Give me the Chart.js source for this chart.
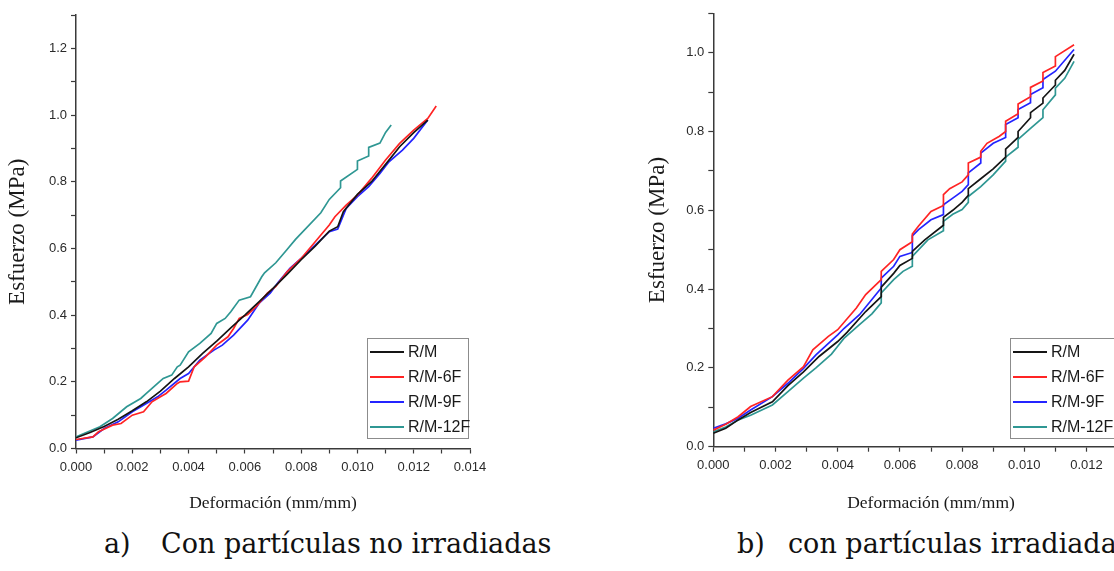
<!DOCTYPE html>
<html lang="es">
<head>
<meta charset="utf-8">
<script src="https://cdn.jsdelivr.net/npm/chart.js@4.4.1/dist/chart.umd.min.js"></script>
<style>
  html, body { margin: 0; padding: 0; background: #fff; }
  body { width: 1114px; height: 571px; position: relative; overflow: hidden; }
  canvas { position: absolute; top: 0; }
  #chartA { left: 0; }
  #chartB { left: 640px; }
  .cap { position: absolute; top: 528px; font-family: "DejaVu Serif", serif; font-size: 27px; color: #111; white-space: nowrap; }
</style>
</head>
<body>
<canvas id="chartA" width="560" height="520"></canvas>
<canvas id="chartB" width="540" height="520"></canvas>
<div class="cap" style="left:104px">a)</div>
<div class="cap" style="left:161px">Con partículas no irradiadas</div>
<div class="cap" style="left:737px">b)</div>
<div class="cap" style="left:788px">con partículas irradiadas</div>
<script>
const seriesNames = ['R/M', 'R/M-6F', 'R/M-9F', 'R/M-12F'];
const seriesColors = ['#151515', '#ff2424', '#2424ff', '#2f9793'];

// a) con partículas no irradiadas  [deformación, esfuerzo]
const noIrrRM = [[0,0.032],[0.0005,0.048],[0.001,0.066],[0.0015,0.088],[0.002,0.113],[0.0025,0.14],[0.003,0.172],[0.0035,0.21],[0.004,0.245],[0.0045,0.285],[0.005,0.322],[0.0055,0.362],[0.006,0.40],[0.0065,0.44],[0.007,0.48],[0.0075,0.522],[0.008,0.566],[0.0085,0.607],[0.009,0.652],[0.0093,0.665],[0.0095,0.71],[0.01,0.762],[0.0105,0.80],[0.011,0.852],[0.0115,0.905],[0.012,0.947],[0.0125,0.985]];
const noIrr6F = [[0,0.027],[0.0006,0.035],[0.0008,0.05],[0.0013,0.07],[0.0016,0.075],[0.002,0.1],[0.0024,0.11],[0.0027,0.14],[0.003,0.155],[0.0032,0.165],[0.0036,0.195],[0.0037,0.2],[0.004,0.202],[0.0042,0.245],[0.0046,0.275],[0.005,0.31],[0.0054,0.335],[0.0056,0.36],[0.0058,0.39],[0.0061,0.402],[0.0064,0.425],[0.0068,0.466],[0.0071,0.486],[0.0075,0.53],[0.008,0.57],[0.0085,0.62],[0.009,0.67],[0.0092,0.695],[0.0096,0.73],[0.01,0.76],[0.0105,0.81],[0.011,0.865],[0.0115,0.915],[0.012,0.955],[0.0125,0.99],[0.0128,1.027]];
const noIrr9F = [[0,0.025],[0.0006,0.035],[0.001,0.06],[0.0015,0.08],[0.002,0.11],[0.0025,0.135],[0.0029,0.155],[0.0032,0.175],[0.0037,0.21],[0.004,0.225],[0.0044,0.265],[0.0049,0.295],[0.0052,0.31],[0.0056,0.34],[0.0061,0.385],[0.0065,0.435],[0.0069,0.466],[0.0072,0.5],[0.0076,0.54],[0.008,0.57],[0.0085,0.61],[0.009,0.65],[0.0093,0.658],[0.0096,0.72],[0.01,0.755],[0.0104,0.785],[0.0108,0.825],[0.0111,0.858],[0.0116,0.895],[0.012,0.93],[0.0125,0.985]];
const noIrr12F = [[0,0.035],[0.00085,0.065],[0.0013,0.09],[0.0018,0.125],[0.0023,0.15],[0.0025,0.165],[0.0029,0.195],[0.0031,0.21],[0.0034,0.22],[0.0036,0.245],[0.0037,0.25],[0.004,0.29],[0.0044,0.315],[0.0048,0.345],[0.005,0.375],[0.0053,0.39],[0.0055,0.41],[0.0058,0.445],[0.0062,0.455],[0.0066,0.515],[0.0067,0.527],[0.0071,0.557],[0.0075,0.597],[0.0078,0.627],[0.0087,0.707],[0.009,0.747],[0.0094,0.782],[0.0094,0.802],[0.01,0.837],[0.01,0.862],[0.0104,0.877],[0.0104,0.903],[0.0108,0.916],[0.011,0.948],[0.0112,0.97]];

// b) con partículas irradiadas
const irrRM = [[0,0.034],[0.0004,0.047],[0.0008,0.068],[0.0012,0.087],[0.0019,0.114],[0.0024,0.155],[0.0029,0.19],[0.0034,0.229],[0.004,0.267],[0.0043,0.29],[0.0049,0.343],[0.0054,0.381],[0.0054,0.405],[0.0058,0.44],[0.006,0.46],[0.0064,0.478],[0.0064,0.496],[0.0068,0.525],[0.0074,0.562],[0.0074,0.582],[0.0077,0.60],[0.008,0.62],[0.0082,0.638],[0.0082,0.655],[0.0086,0.68],[0.009,0.705],[0.0094,0.735],[0.0094,0.755],[0.0098,0.785],[0.0098,0.80],[0.0102,0.835],[0.0102,0.848],[0.0106,0.872],[0.0106,0.885],[0.011,0.918],[0.011,0.93],[0.0113,0.955],[0.0116,0.996]];
const irr6F = [[0,0.042],[0.0004,0.057],[0.0008,0.076],[0.0012,0.102],[0.0019,0.127],[0.0024,0.169],[0.0029,0.203],[0.0032,0.246],[0.0037,0.28],[0.004,0.297],[0.0046,0.352],[0.0049,0.386],[0.0054,0.424],[0.0054,0.445],[0.0058,0.475],[0.006,0.5],[0.0064,0.52],[0.0064,0.54],[0.0066,0.56],[0.007,0.597],[0.0074,0.612],[0.0074,0.64],[0.0076,0.655],[0.008,0.672],[0.0082,0.69],[0.0082,0.72],[0.0086,0.735],[0.0086,0.75],[0.0088,0.77],[0.0092,0.788],[0.0094,0.80],[0.0094,0.826],[0.0098,0.845],[0.0098,0.87],[0.0102,0.888],[0.0102,0.912],[0.0106,0.928],[0.0106,0.95],[0.011,0.966],[0.011,0.99],[0.0116,1.02]];
const irr9F = [[0,0.047],[0.0004,0.058],[0.0008,0.072],[0.0012,0.093],[0.0019,0.127],[0.0024,0.161],[0.0029,0.199],[0.0033,0.233],[0.004,0.284],[0.0042,0.30],[0.0047,0.335],[0.005,0.364],[0.0054,0.403],[0.0054,0.428],[0.0058,0.458],[0.006,0.483],[0.0064,0.493],[0.0064,0.535],[0.0066,0.551],[0.007,0.576],[0.0074,0.589],[0.0074,0.614],[0.0077,0.631],[0.008,0.648],[0.0082,0.665],[0.0082,0.695],[0.0086,0.72],[0.0086,0.745],[0.009,0.77],[0.0094,0.785],[0.0094,0.818],[0.0098,0.835],[0.0098,0.856],[0.0102,0.873],[0.0102,0.894],[0.0106,0.911],[0.0106,0.932],[0.011,0.953],[0.0116,1.008]];
const irr12F = [[0,0.038],[0.0004,0.05],[0.0008,0.068],[0.0012,0.08],[0.0019,0.106],[0.0024,0.14],[0.0029,0.174],[0.0033,0.2],[0.0038,0.235],[0.004,0.255],[0.0042,0.275],[0.0047,0.31],[0.0051,0.337],[0.0054,0.365],[0.0054,0.39],[0.0058,0.424],[0.0061,0.445],[0.0064,0.458],[0.0064,0.483],[0.0069,0.525],[0.0074,0.548],[0.0074,0.572],[0.0077,0.59],[0.008,0.602],[0.0082,0.62],[0.0082,0.635],[0.0086,0.66],[0.009,0.69],[0.0094,0.725],[0.0094,0.735],[0.0098,0.76],[0.0098,0.78],[0.0102,0.808],[0.0106,0.835],[0.0106,0.855],[0.011,0.893],[0.011,0.91],[0.0113,0.935],[0.0116,0.978]];

const xTitle = 'Deformación (mm/mm)';
const yTitle = 'Esfuerzo (MPa)';

const boxLegend = {
  id: 'boxLegend',
  afterDraw(chart, args, opts) {
    const ctx = chart.ctx;
    ctx.save();
    ctx.fillStyle = '#fff';
    ctx.fillRect(opts.x, opts.y, opts.w, opts.h);
    ctx.strokeStyle = '#8c8c8c';
    ctx.lineWidth = 1;
    ctx.strokeRect(opts.x + 0.5, opts.y + 0.5, opts.w, opts.h);
    ctx.font = '16px "Liberation Sans", Arial, sans-serif';
    ctx.textBaseline = 'middle';
    chart.data.datasets.forEach((ds, i) => {
      const y = opts.y + 14 + i * 25;
      ctx.strokeStyle = ds.borderColor;
      ctx.lineWidth = 2;
      ctx.beginPath();
      ctx.moveTo(opts.x + 3, y);
      ctx.lineTo(opts.x + 37, y);
      ctx.stroke();
      ctx.fillStyle = '#1a1a1a';
      ctx.fillText(ds.label, opts.x + 41, y + 1);
    });
    ctx.restore();
  }
};

function makeChart(id, series, cfg) {
  const ctx = document.getElementById(id).getContext('2d');
  return new Chart(ctx, {
    type: 'scatter',
    data: {
      datasets: series.map((pts, i) => ({
        label: seriesNames[i],
        data: pts.map(([x, y]) => ({ x, y })),
        showLine: true,
        borderColor: seriesColors[i],
        backgroundColor: seriesColors[i],
        borderWidth: 1.7,
        pointRadius: 0,
        tension: 0
      }))
    },
    options: {
      responsive: false,
      animation: false,
      devicePixelRatio: 1,
      layout: { padding: { top: cfg.top, right: cfg.right, left: 0, bottom: 0 } },
      plugins: {
        legend: { display: false },
        tooltip: { enabled: false },
        boxLegend: cfg.legend
      },
      scales: {
        x: {
          type: 'linear',
          min: 0,
          max: 0.014,
          afterFit: s => { s.height = cfg.xHeight; },
          border: { display: true, color: '#3a3a3a', width: 1.5 },
          grid: { drawOnChartArea: false, drawTicks: true, tickLength: 5, tickColor: '#3a3a3a', tickWidth: 1.2 },
          ticks: {
            stepSize: 0.001,
            autoSkip: false,
            maxRotation: 0,
            padding: 6,
            color: '#2a2a2a',
            font: { family: '"Liberation Sans", Arial, sans-serif', size: 13 },
            callback: v => Math.round(v * 1000) % 2 === 0 ? v.toFixed(3) : ''
          },
          title: {
            display: true,
            text: xTitle,
            color: '#1a1a1a',
            font: { family: '"Liberation Serif", "Times New Roman", serif', size: 17.5 },
            padding: { top: 4, bottom: 6 }
          }
        },
        y: {
          type: 'linear',
          min: 0,
          max: cfg.yMax,
          afterFit: s => { s.width = cfg.yWidth; },
          border: { display: true, color: '#3a3a3a', width: 1.5 },
          grid: { drawOnChartArea: false, drawTicks: true, tickLength: 5, tickColor: '#3a3a3a', tickWidth: 1.2 },
          ticks: {
            stepSize: 0.1,
            autoSkip: false,
            padding: 4,
            color: '#2a2a2a',
            font: { family: '"Liberation Sans", Arial, sans-serif', size: 13 },
            callback: v => Math.round(v * 10) % 2 === 0 ? v.toFixed(1) : ''
          },
          title: {
            display: true,
            text: yTitle,
            color: '#1a1a1a',
            font: { family: '"Liberation Serif", "Times New Roman", serif', size: 23 },
            padding: { top: 4, bottom: 4 }
          }
        }
      }
    },
    plugins: [boxLegend]
  });
}

makeChart('chartA', [noIrrRM, noIrr6F, noIrr9F, noIrr12F], {
  top: 15, right: 90, yWidth: 76, xHeight: 71.5, yMax: 1.3,
  legend: { x: 367, y: 338, w: 101, h: 100 }
});

makeChart('chartB', [irrRM, irr6F, irr9F, irr12F], {
  top: 13.3, right: 31.3, yWidth: 73.3, xHeight: 73.3, yMax: 1.1,
  legend: { x: 370, y: 338, w: 104, h: 100 }
});
</script>
</body>
</html>
